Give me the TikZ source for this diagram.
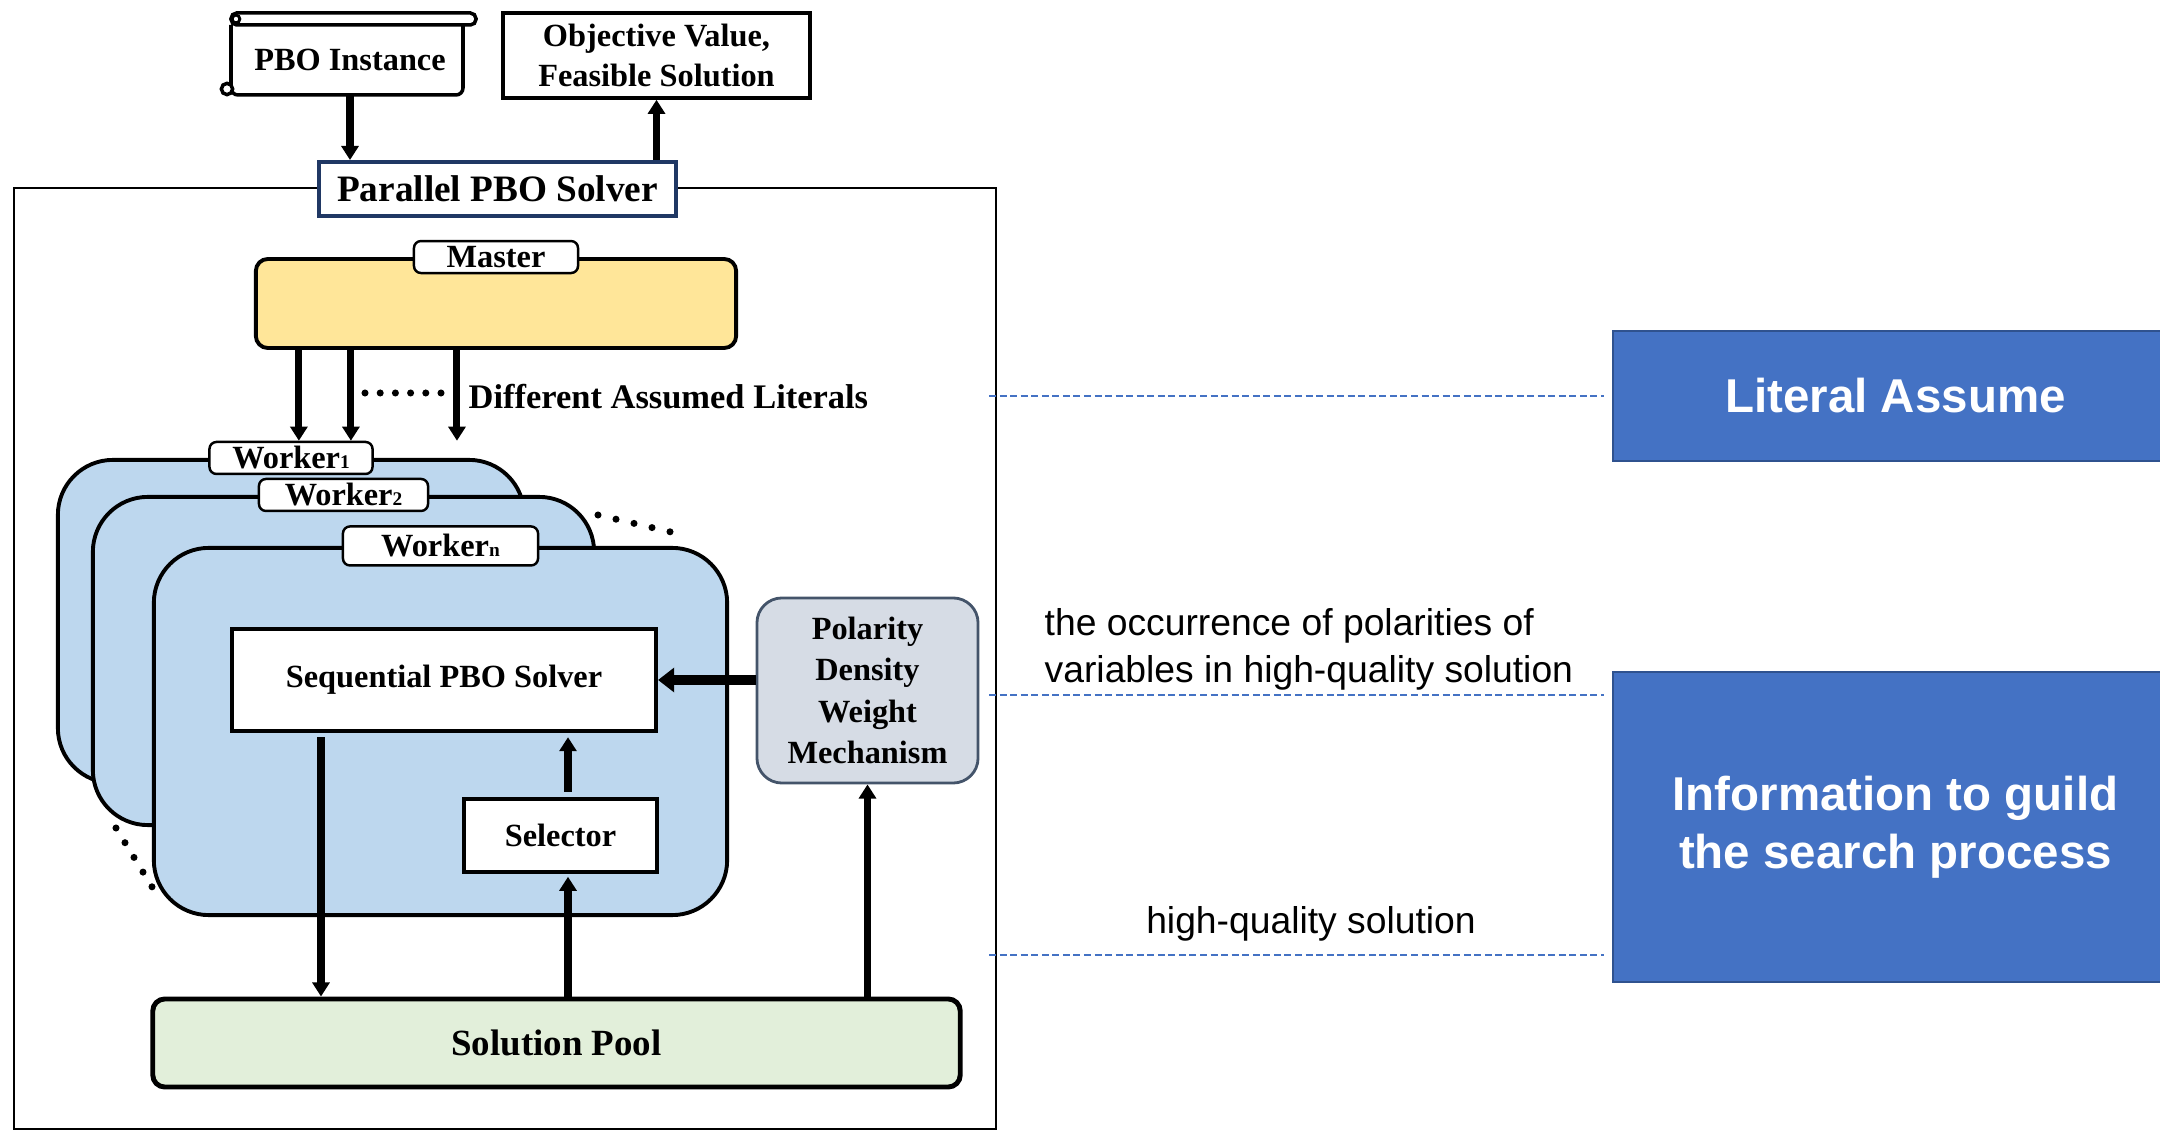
\documentclass[tikz,border=0pt]{standalone}
\usepackage{fontspec}
\setmainfont{Liberation Serif}
\setsansfont{Liberation Sans}
\usetikzlibrary{arrows.meta}
\definecolor{masteryellow}{HTML}{FFE699}
\definecolor{workerblue}{HTML}{BDD7EE}
\definecolor{polgray}{HTML}{D6DCE5}
\definecolor{poledge}{HTML}{44546A}
\definecolor{poolgreen}{HTML}{E2EFDA}
\definecolor{parnavy}{HTML}{203864}
\definecolor{infoblue}{HTML}{4472C4}
\definecolor{infoedge}{HTML}{2F528F}
\def\sub#1{{\fontsize{5.5}{6}\selectfont #1}}

\begin{document}
\begin{tikzpicture}[x=0.01cm,y=-0.01cm,>={Triangle[length=4pt,width=4.8pt]}]
    \tikzstyle{box}=[draw=black,line width=1.1pt,fill=white,inner sep=0pt,font=\bfseries\fontsize{9.2}{11.4}\selectfont]
    \tikzstyle{tag}=[box,line width=0.7pt,rounded corners=2pt]
    \tikzstyle{panel}=[draw=black,line width=1.1pt,fill=workerblue,rounded corners=0.55cm,inner sep=0pt]
    \tikzstyle{flow}=[->,line width=2pt]
    \tikzstyle{guide}=[draw=infoblue,line width=0.45pt,dash pattern=on 2pt off 1pt]
    \tikzstyle{infobox}=[draw=infoedge,line width=0.6pt,fill=infoblue,text=white,align=center,font=\sffamily\bfseries\fontsize{13.5}{16.5}\selectfont]
    \tikzstyle{note}=[inner sep=0pt,font=\sffamily\fontsize{10.6}{13.4}\selectfont]

    \useasboundingbox (0,0) rectangle (2160,1131);
    \clip (0,0) rectangle (2160,1131);

    % Draw the scroll for the input
    \draw[line width=1pt,rounded corners=2pt] (231,25) -- (231,95) -- (463,95) -- (463,25);
    \draw[line width=1pt,fill=white,rounded corners=1.6pt] (231,13) rectangle (476,25);
    \draw[line width=0.8pt,fill=white] (236,19) circle[radius=1.1pt];
    \draw[line width=1pt,fill=white] (227,89) circle[radius=1.6pt];
    \node[inner sep=0pt,font=\bfseries\fontsize{9.2}{11.4}\selectfont,minimum width=2.32cm,minimum height=0.70cm] (inst) at (350,60) {PBO Instance};
    \node[box,line width=1pt,align=center,minimum width=3.07cm,minimum height=0.85cm] (obj) at (656.5,55.5) {Objective Value,\\Feasible Solution};

    % Draw the outer solver frame
    \draw[line width=0.7pt] (14,188) rectangle (996,1129);
    \node[box,draw=parnavy,font=\bfseries\fontsize{10.6}{12}\selectfont,minimum width=3.57cm,minimum height=0.54cm] (par) at (497.5,189) {Parallel PBO Solver};
    \draw[flow] (inst.south) -- (inst.south |- par.north);
    \draw[flow] (obj.south |- par.north) -- (obj.south);

    % Draw the master
    \node[draw,line width=1.1pt,fill=masteryellow,rounded corners=0.12cm,minimum width=4.80cm,minimum height=0.89cm] (master) at (496,303.5) {};
    \node[tag,minimum width=1.64cm,minimum height=0.32cm] (mtag) at (master.north) {Master};

    % Draw the workers, back to front
    \foreach \name/\cx/\cy/\pw/\ph/\lw/\lh in {1/291/621.5/4.66/3.23/1.63/0.32,2/343.5/661/5.01/3.28/1.69/0.32,n/440.5/731.5/5.73/3.67/1.95/0.39}
    {
        \node[panel,minimum width=\pw cm,minimum height=\ph cm] (W-\name) at (\cx,\cy) {};
        \node[tag,minimum width=\lw cm,minimum height=\lh cm] (L-\name) at (W-\name.north) {Worker\sub{\name}};
    }

    % Assumed literals from the master to the workers
    \foreach \dx in {-1.97,-1.45,-0.39}
        \draw[flow] ([xshift=\dx cm]master.south) -- ([xshift=\dx cm]master.south |- L-1.north);
    \foreach \i in {0,...,5}
        \fill (365+\i*15.2,393) circle[radius=1pt];
    \node[anchor=west,inner sep=0pt,font=\bfseries\fontsize{9.8}{12}\selectfont] (lits) at (468,397) {Different Assumed Literals};

    % Dots for the hidden workers
    \foreach \i in {0,...,4}
    {
        \fill (598+\i*18,515+\i*4.2) circle[radius=1pt];
        \fill (116+\i*9,828+\i*14.7) circle[radius=1pt];
    }

    % Inside the last worker
    \node[box,minimum width=4.24cm,minimum height=1.02cm] (seq) at (444,680) {Sequential PBO Solver};
    \node[box,minimum width=1.93cm,minimum height=0.73cm] (sel) at (560.5,835.5) {Selector};
    \node[draw=poledge,line width=0.8pt,fill=polgray,rounded corners=0.25cm,inner sep=0pt,minimum width=2.21cm,minimum height=1.85cm,align=center,font=\bfseries\fontsize{9.2}{11.7}\selectfont] (pol) at (867.5,690.5) {Polarity\\Density\\Weight\\Mechanism};
    \node[draw,line width=1.4pt,fill=poolgreen,rounded corners=0.12cm,minimum width=8.07cm,minimum height=0.88cm,font=\bfseries\fontsize{10.5}{12}\selectfont] (pool) at (556.5,1043) {Solution Pool};

    % Connect solver, selector, pool and weights
    \draw[flow,shorten <=1.2pt] ([xshift=0.91cm]seq.south west) -- ([xshift=0.91cm]seq.south west |- pool.north);
    \draw[flow,shorten <=1.5pt,shorten >=1.2pt] ([xshift=0.075cm]sel.north) -- ([xshift=0.075cm]sel.north |- seq.south);
    \draw[flow,shorten >=0.8pt] ([xshift=0.075cm]sel.south |- pool.north) -- ([xshift=0.075cm]sel.south);
    \draw[flow] (pol.south |- pool.north) -- (pol.south);
    \draw[->,line width=2.8pt,>={Triangle[length=4.6pt,width=6.8pt]}] (pol.west |- seq.east) -- (seq.east);

    % Annotate on the right
    \node[infobox,minimum width=5.65cm,minimum height=1.30cm] (lit) at (1895.5,396) {Literal Assume};
    \node[infobox,minimum width=5.65cm,minimum height=3.10cm] (info) at (1895.5,827) {Information to guild\\the search process};
    \coordinate (g1) at (989,396);
    \coordinate (g2) at (989,695);
    \coordinate (g3) at (989,955);
    \draw[guide] (g1) -- ([xshift=-0.08cm]lit.west);
    \draw[guide] (g2) -- ([xshift=-0.08cm]g2 -| info.west);
    \draw[guide] (g3) -- ([xshift=-0.08cm]g3 -| info.west);
    \node[note,anchor=west,align=left] (occ) at (1044,649) {the occurrence of polarities of\\variables in high-quality solution};
    \node[note] (hq) at (1311,924) {high-quality solution};
\end{tikzpicture}
\end{document}
